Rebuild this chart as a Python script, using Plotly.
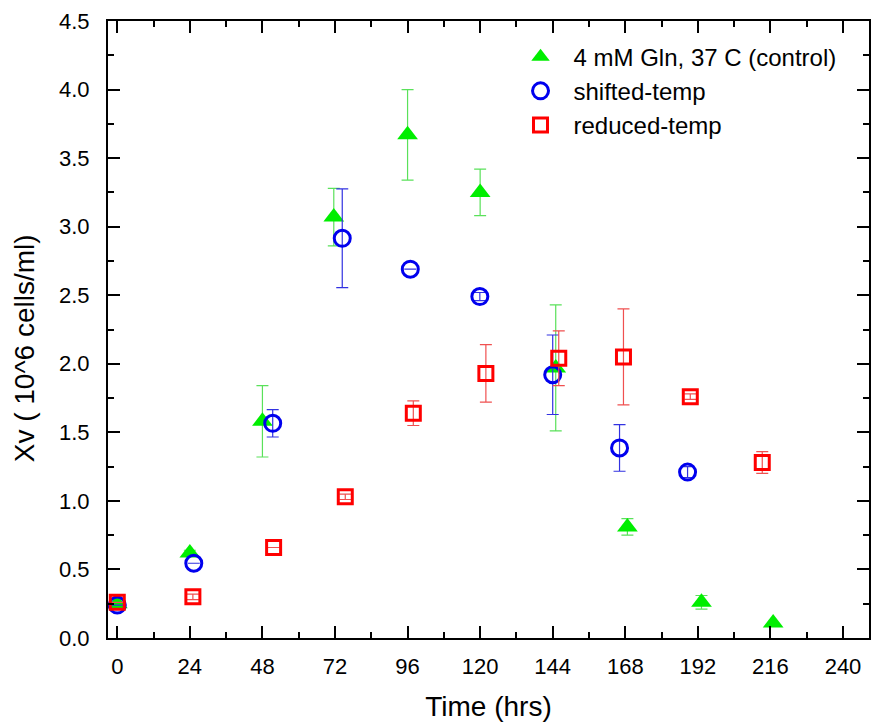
import plotly.graph_objects as go

# ---- data ----
ctrl_name = "4 mM Gln, 37 C (control)"
ctrl_x = [0, 24, 48, 71.6, 96, 120, 145, 168.7, 193.2, 216.9]
ctrl_y = [0.25, 0.62, 1.58, 3.07, 3.67, 3.25, 1.97, 0.81, 0.26, 0.11]
ctrl_err = [0, 0.02, 0.26, 0.21, 0.33, 0.17, 0.46, 0.06, 0.05, 0]

shift_name = "shifted-temp"
shift_x = [0, 25.3, 51.4, 74.4, 96.9, 119.9, 144.0, 166.1, 188.6]
shift_y = [0.24, 0.545, 1.566, 2.915, 2.69, 2.49, 1.92, 1.386, 1.21]
shift_err = [0, 0, 0.1, 0.36, 0, 0.03, 0.29, 0.17, 0.04]

red_name = "reduced-temp"
red_x = [0, 25, 51.7, 75.4, 97.9, 121.9, 146.0, 167.4, 189.5, 213.3]
red_y = [0.26, 0.30, 0.66, 1.03, 1.64, 1.93, 2.04, 2.05, 1.76, 1.28]
red_err = [0, 0.02, 0, 0.02, 0.09, 0.21, 0.2, 0.35, 0.02, 0.08]

x_ticks = [0, 24, 48, 72, 96, 120, 144, 168, 192, 216, 240]
y_ticks = [0.0, 0.5, 1.0, 1.5, 2.0, 2.5, 3.0, 3.5, 4.0, 4.5]

FONT = "Arial, Liberation Sans, sans-serif"

fig = go.Figure()
fig.add_trace(go.Scatter(
    x=ctrl_x, y=ctrl_y, mode="markers", name=ctrl_name,
    marker=dict(symbol="triangle-up", size=18, color="#00ee00",
                line=dict(width=0)),
    error_y=dict(type="data", array=ctrl_err, visible=True,
                 color="rgb(90,225,90)", thickness=1.2, width=6),
))
fig.add_trace(go.Scatter(
    x=shift_x, y=shift_y, mode="markers", name=shift_name,
    marker=dict(symbol="circle-open", size=16, color="#0000ee",
                line=dict(width=3, color="#0000ee")),
    error_y=dict(type="data", array=shift_err, visible=True,
                 color="rgb(50,50,225)", thickness=1.2, width=6),
))
fig.add_trace(go.Scatter(
    x=red_x, y=red_y, mode="markers", name=red_name,
    marker=dict(symbol="square-open", size=14, color="#ff0000",
                line=dict(width=3, color="#ff0000")),
    error_y=dict(type="data", array=red_err, visible=True,
                 color="rgb(240,80,80)", thickness=1.2, width=6),
))

axis_common = dict(
    showline=True, linecolor="black", linewidth=2, mirror="allticks",
    ticks="inside", ticklen=12, tickwidth=2, tickcolor="black",
    showgrid=False, zeroline=False,
    tickfont=dict(family=FONT, size=22, color="black"),
)

fig.update_xaxes(
    range=[-3.07, 248.6], tickmode="array", tickvals=x_ticks,
    ticktext=[str(v) for v in x_ticks],
    minor=dict(dtick=12, tick0=0, ticks="inside", ticklen=6, tickwidth=2,
               tickcolor="black", showgrid=False),
    ticklabelstandoff=8,
    title=dict(text="Time (hrs)", font=dict(family=FONT, size=28, color="black"),
               standoff=18),
    **axis_common,
)
fig.update_yaxes(
    range=[0, 4.5], tickmode="array", tickvals=y_ticks,
    ticktext=[f"{v:.1f}" for v in y_ticks],
    minor=dict(dtick=0.25, tick0=0, ticks="inside", ticklen=6, tickwidth=2,
               tickcolor="black", showgrid=False),
    ticklabelstandoff=12,
    **axis_common,
)

fig.add_annotation(
    text="Xv ( 10^6 cells/ml)", textangle=-90,
    xref="paper", yref="paper", x=-0.11, y=0.47,
    xanchor="center", yanchor="middle", showarrow=False,
    font=dict(family=FONT, size=28, color="black"),
)

fig.update_layout(
    width=871, height=727,
    margin=dict(l=108, r=0, t=21, b=89),
    paper_bgcolor="white", plot_bgcolor="white",
    showlegend=True,
    legend=dict(x=0.525, y=0.978, xanchor="left", yanchor="top",
                bgcolor="rgba(0,0,0,0)", borderwidth=0,
                itemwidth=56, font=dict(family=FONT, size=24, color="black")),
    font=dict(family=FONT),
)

fig.write_html("out.html")
